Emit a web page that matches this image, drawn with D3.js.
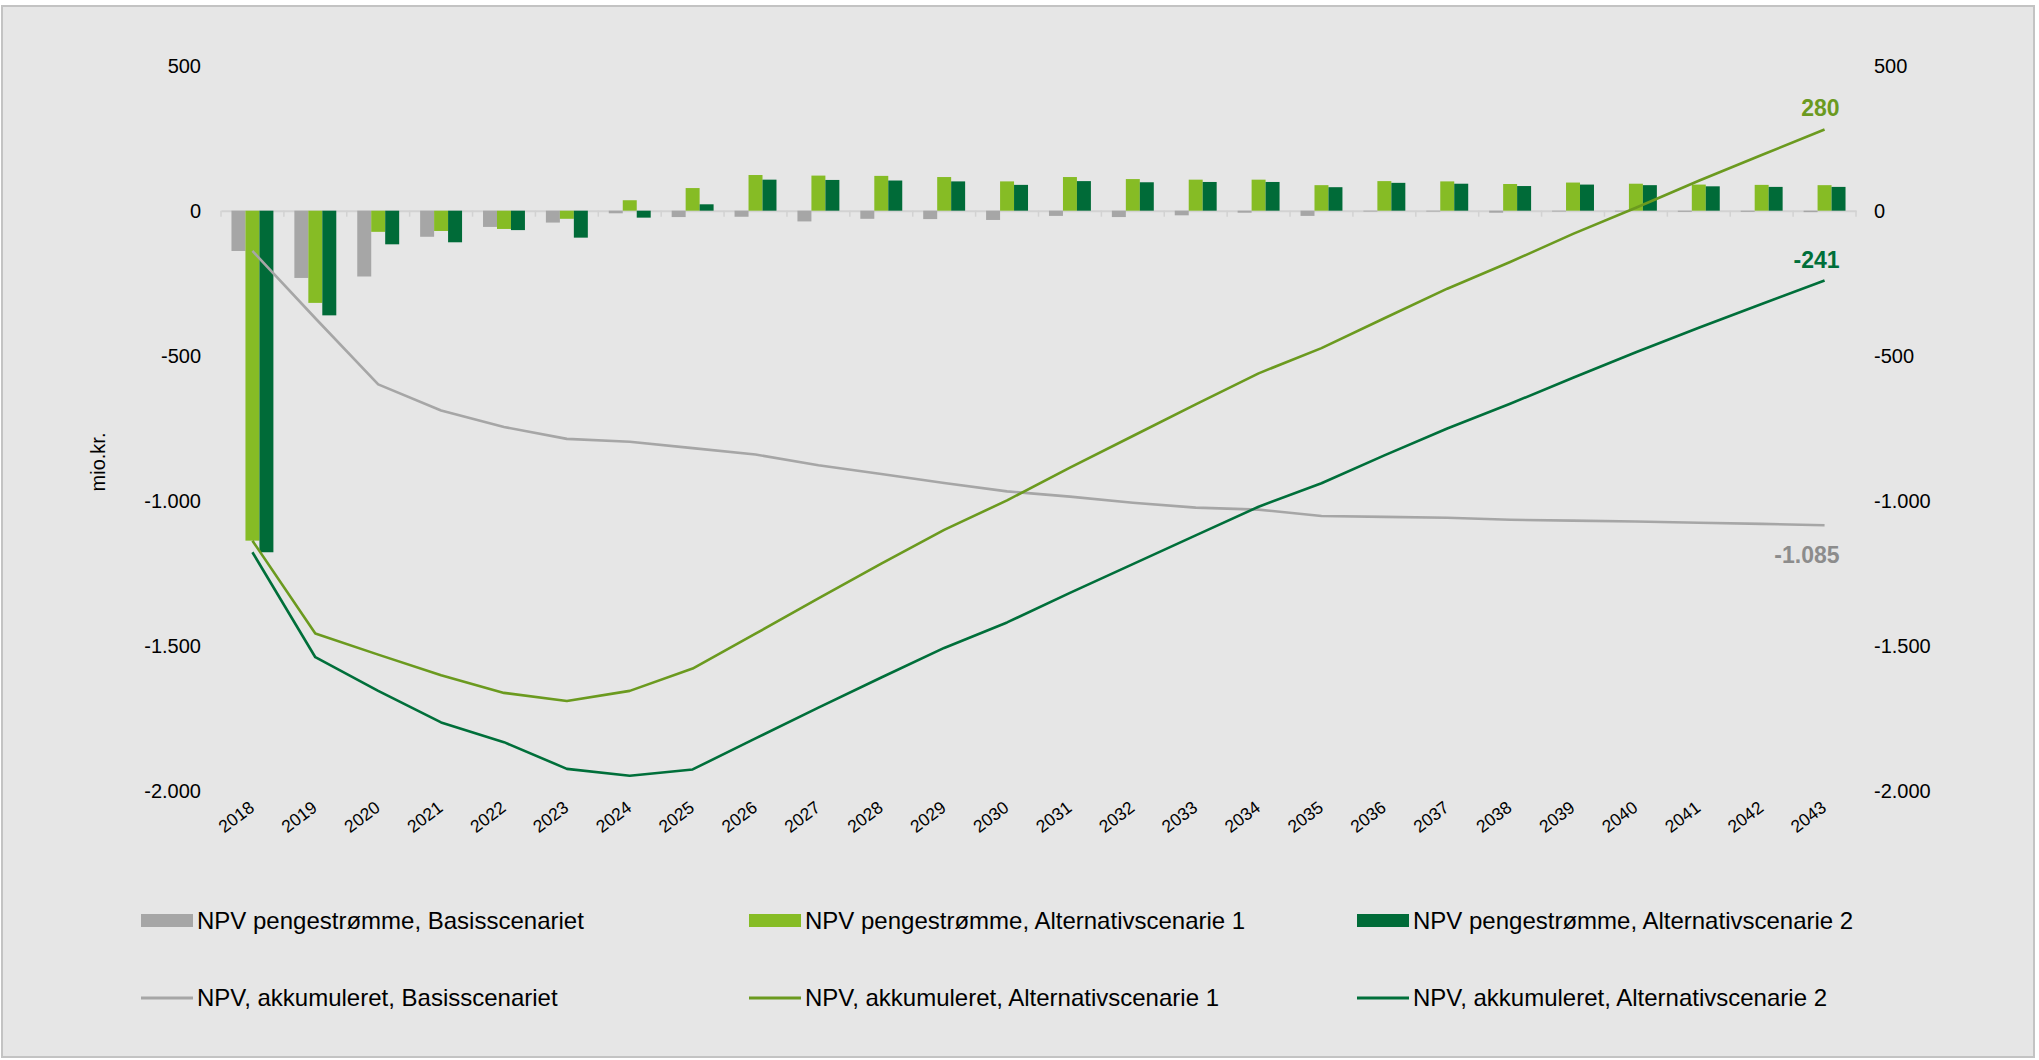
<!DOCTYPE html>
<html>
<head>
<meta charset="utf-8">
<script src="https://cdn.jsdelivr.net/npm/d3@7"></script>
<style>
  html, body { margin: 0; padding: 0; background: #ffffff; }
  svg { display: block; }
  text { font-family: "Liberation Sans", Arial, sans-serif; }
</style>
</head>
<body>
<svg id="chart" width="2039" height="1060"></svg>
<script>
// Years on the category axis
const years = ["2018","2019","2020","2021","2022","2023","2024","2025","2026","2027","2028","2029","2030",
               "2031","2032","2033","2034","2035","2036","2037","2038","2039","2040","2041","2042","2043"];

// Yearly NPV cash flows (mio. kr.)
const cashBasis = [-139,-232,-227,-90,-56,-41,-9,-22,-21,-37,-28,-29,-32,-18,-22,-16,-7,-18,-3,-3,-7,-3,-3,-4,-4,-5];
const cashAlt1  = [-1138,-318,-73,-70,-63,-28,36,78,123,121,120,116,101,116,109,107,107,88,102,101,92,97,93,90,89,88];
const cashAlt2  = [-1178,-361,-116,-109,-67,-93,-24,22,107,106,104,101,89,102,98,99,99,81,96,93,85,90,88,84,82,82];

// Accumulated NPV (mio. kr.)
const accBasis = [-139,-371,-599,-689,-746,-787,-797,-819,-841,-878,-908,-939,-968,-986,-1007,-1024,-1031,-1053,-1056,-1059,-1066,-1069,-1072,-1076,-1080,-1085];
const accAlt1  = [-1138,-1458,-1531,-1602,-1663,-1691,-1656,-1579,-1459,-1337,-1217,-1101,-999,-886,-777,-668,-561,-474,-371,-269,-177,-80,10,103,192,280];
const accAlt2  = [-1178,-1540,-1656,-1765,-1833,-1925,-1949,-1927,-1820,-1714,-1610,-1508,-1420,-1318,-1219,-1120,-1021,-940,-844,-751,-666,-576,-488,-404,-322,-241];

// Value axis ticks
const yTicks = [500, 0, -500, -1000, -1500, -2000];

const barSeries = [
  { name: "NPV pengestrømme, Basisscenariet",       values: cashBasis, color: "#a6a6a6" },
  { name: "NPV pengestrømme, Alternativscenarie 1", values: cashAlt1,  color: "#86bc25" },
  { name: "NPV pengestrømme, Alternativscenarie 2", values: cashAlt2,  color: "#006b38" }
];
const lineSeries = [
  { name: "NPV, akkumuleret, Basisscenariet",       values: accBasis, color: "#a6a6a6", label: "#8c8c8c", below: true },
  { name: "NPV, akkumuleret, Alternativscenarie 1", values: accAlt1,  color: "#6b9a1f", label: "#6b9a1f", below: false },
  { name: "NPV, akkumuleret, Alternativscenarie 2", values: accAlt2,  color: "#006f3a", label: "#006f3a", below: false }
];

const da = d3.formatLocale({ decimal: ",", thousands: ".", grouping: [3], currency: ["", " kr."], minus: "-" });
const fmt = da.format(",d");

const svg = d3.select("#chart");
const plot = { left: 221, right: 1856, top: 65.7, bottom: 790.6 };

// Chart background with frame
svg.append("rect")
  .attr("x", 2).attr("y", 6).attr("width", 2032).attr("height", 1051)
  .attr("fill", "#e6e6e6").attr("stroke", "#c3c3c3").attr("stroke-width", 2);

const x = d3.scaleBand().domain(years).range([plot.left, plot.right]).padding(0);
const step = x.step();
const xs = d3.scaleBand().domain(barSeries.map(d => d.name)).range([step / 6, step * 5 / 6]).padding(0);
const y = d3.scaleLinear().domain([-2000, 500]).range([plot.bottom, plot.top]);

// Left and right value axes
const yl = svg.append("g").attr("transform", `translate(${plot.left},0)`)
  .call(d3.axisLeft(y).tickValues(yTicks).tickFormat(fmt).tickSize(0).tickPadding(20));
const yr = svg.append("g").attr("transform", `translate(${plot.right},0)`)
  .call(d3.axisRight(y).tickValues(yTicks).tickFormat(fmt).tickSize(0).tickPadding(18));
[yl, yr].forEach(g => {
  g.select(".domain").remove();
  g.selectAll("text").attr("font-size", 20).attr("fill", "#000")
    .attr("font-family", "'Liberation Sans', Arial, sans-serif");
});

svg.append("text")
  .attr("transform", "translate(105,462) rotate(-90)")
  .attr("text-anchor", "middle")
  .attr("font-size", 20).attr("fill", "#000")
  .text("mio.kr.");

// Category axis along zero
const xg = svg.append("g").attr("transform", `translate(0,${y(0)})`)
  .call(d3.axisBottom(x).tickValues([]).tickSizeOuter(0));
xg.select(".domain").attr("stroke", "#d2d2d2").attr("stroke-width", 2);
const bounds = years.map(yr => x(yr)).concat([plot.right]);
xg.selectAll("line.sep").data(bounds).join("line").attr("class", "sep")
  .attr("x1", d => d).attr("x2", d => d).attr("y1", 0).attr("y2", 6)
  .attr("stroke", "#d2d2d2").attr("stroke-width", 1.5);

// Year labels below the plot
svg.append("g").selectAll("text").data(years).join("text")
  .attr("transform", d => `translate(${x(d) + step / 2 + 3},810) rotate(-37)`)
  .attr("text-anchor", "end")
  .attr("font-size", 17.5).attr("fill", "#000")
  .text(d => d);

// Bars
barSeries.forEach(s => {
  svg.append("g").selectAll("rect").data(s.values).join("rect")
    .attr("x", (d, i) => x(years[i]) + xs(s.name))
    .attr("width", xs.bandwidth())
    .attr("y", d => Math.min(y(d), y(0)))
    .attr("height", d => Math.abs(y(d) - y(0)))
    .attr("fill", s.color);
});

// Accumulated lines
const line = d3.line()
  .x((d, i) => x(years[i]) + step / 2)
  .y(d => y(d));
lineSeries.forEach(s => {
  svg.append("path").datum(s.values)
    .attr("d", line)
    .attr("fill", "none").attr("stroke", s.color).attr("stroke-width", 2.6)
    .attr("stroke-linejoin", "round");
});

// End labels
lineSeries.forEach(s => {
  const last = s.values[s.values.length - 1];
  const px = x(years[years.length - 1]) + step / 2;
  svg.append("text")
    .attr("x", px + 15)
    .attr("y", s.below ? y(last) + 38 : y(last) - 13)
    .attr("text-anchor", "end")
    .attr("font-size", 23).attr("font-weight", "bold")
    .attr("fill", s.label)
    .text(fmt(last));
});

// Legend
const legendCols = [141, 749, 1357];
const legendRows = [920.5, 998];
barSeries.forEach((s, i) => {
  const g = svg.append("g").attr("transform", `translate(${legendCols[i]},${legendRows[0]})`);
  g.append("rect").attr("x", 0).attr("y", -6.5).attr("width", 52).attr("height", 13).attr("fill", s.color);
  g.append("text").attr("x", 56).attr("y", 8).attr("font-size", 24).attr("fill", "#000").text(s.name);
});
lineSeries.forEach((s, i) => {
  const g = svg.append("g").attr("transform", `translate(${legendCols[i]},${legendRows[1]})`);
  g.append("line").attr("x1", 0).attr("x2", 52).attr("y1", 0).attr("y2", 0)
    .attr("stroke", s.color).attr("stroke-width", 3);
  g.append("text").attr("x", 56).attr("y", 8).attr("font-size", 24).attr("fill", "#000").text(s.name);
});
</script>
</body>
</html>
